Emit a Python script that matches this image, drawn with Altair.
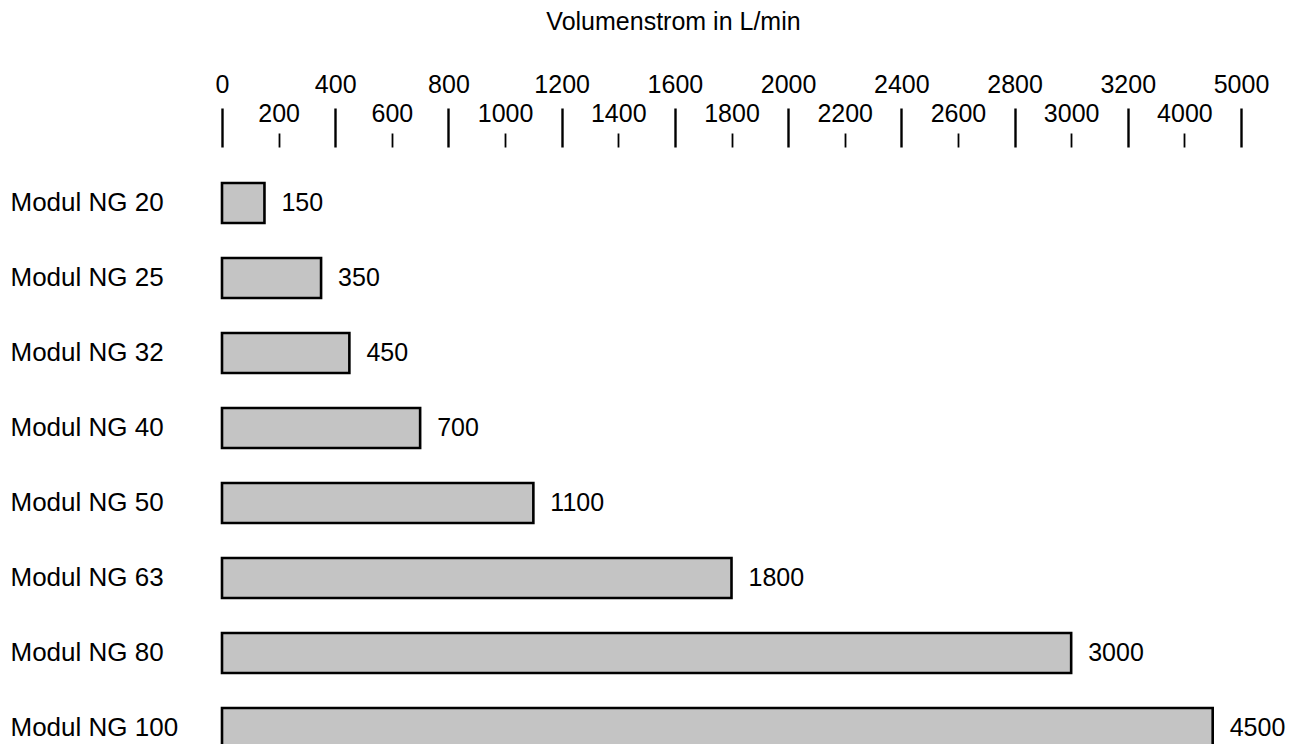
import altair as alt
import pandas as pd

modules = ["Modul NG 20", "Modul NG 25", "Modul NG 32", "Modul NG 40",
           "Modul NG 50", "Modul NG 63", "Modul NG 80", "Modul NG 100"]
flows = [150, 350, 450, 700, 1100, 1800, 3000, 4500]
major_ticks = [0, 400, 800, 1200, 1600, 2000, 2400, 2800, 3200, 5000]
minor_ticks = [200, 600, 1000, 1400, 1800, 2200, 2600, 3000, 4000]
scale_breaks = [0, 3200, 4000, 5000]
break_steps = [0, 16, 17, 18]

df = pd.DataFrame({"module": modules, "flow": flows})

FONT = "Liberation Sans"
FS = 25
W = 1019
step = W / 18

xscale = alt.Scale(domain=scale_breaks, range=[s * step for s in break_steps],
                   nice=False, zero=False)
yscale = alt.Scale(domain=modules, range=[36, 601], paddingInner=35 / 75, paddingOuter=0)

common_axis = dict(orient="top", grid=False, domain=False, tickColor="black",
                   labelFont=FONT, labelFontSize=FS, labelColor="black",
                   labelAngle=0, labelFlush=False, labelOverlap=False, format="d")

yaxis = alt.Axis(orient="left", domain=False, ticks=False, title=None,
                 labelAlign="left", labelBaseline="middle", labelPadding=212,
                 labelFont=FONT, labelFontSize=26, labelColor="black", labelOverlap=False)

bars = alt.Chart(df).mark_bar(fill="#c4c4c4", stroke="black", strokeWidth=2.6).encode(
    x=alt.X("flow:Q", scale=xscale,
            axis=alt.Axis(values=major_ticks, tickSize=39, tickWidth=2.4, labelPadding=11,
                          title="Volumenstrom in L/min", titleFont=FONT, titleFontSize=FS,
                          titleFontWeight="normal", titleColor="black", titleX=451, titleY=-126,
                          titleAlign="center", titleBaseline="middle", titleAngle=0,
                          **common_axis)),
    y=alt.Y("module:N", scale=yscale, sort=None, axis=yaxis),
)

labels = alt.Chart(df).mark_text(align="left", baseline="middle", dx=17, font=FONT,
                                 fontSize=FS, color="black").encode(
    x=alt.X("flow:Q", scale=xscale,
            axis=alt.Axis(values=minor_ticks, tickSize=14, tickWidth=1.8, labelPadding=7,
                          title=None, **common_axis)),
    y=alt.Y("module:N", scale=yscale, sort=None, axis=yaxis),
    text=alt.Text("flow:Q", format="d"),
)

chart = alt.layer(bars, labels).resolve_axis(x="independent").properties(
    width=W, height=597,
    autosize=alt.AutoSizeParams(type="none"),
    padding={"left": 214, "top": 139, "right": 50, "bottom": 0},
    background="white",
).configure_view(strokeWidth=0)

chart.save("out.html", embed_options={"renderer": "svg", "actions": False})
